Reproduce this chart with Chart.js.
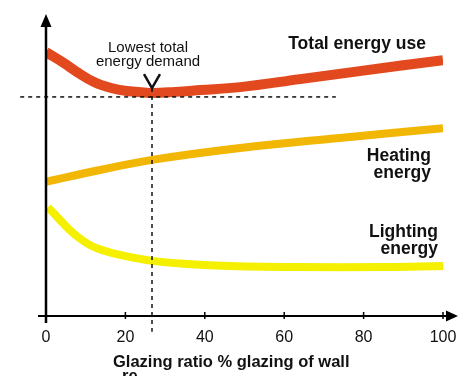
<!DOCTYPE html>
<html>
<head>
<meta charset="utf-8">
<script src="https://cdn.jsdelivr.net/npm/chart.js@4"></script>
<style>
  body { margin: 0; background: #fff; }
  #wrap { width: 458px; height: 376px; }
</style>
</head>
<body>
<div id="wrap"><canvas id="chart" width="458" height="376"></canvas></div>
<script>
// glazing ratio (% of wall) and relative energy (0-100, unitless)
const xTicks = [0, 20, 40, 60, 80, 100];

const totalX = [0, 4.5, 7.8, 12.1, 16.4, 20.4, 24.7, 26.7, 32.5, 38.8, 48.9, 64, 79, 100];
const totalY = [89.2, 85.5, 82.5, 79.1, 77.1, 76.1, 75.6, 75.4, 75.8, 76.4, 77.4, 80.1, 82.8, 86.5];

const heatingX = [0, 13.6, 26.7, 48.9, 74, 100];
const heatingY = [45.5, 49.5, 52.9, 56.9, 60.3, 63.6];

const lightingX = [0.5, 3.5, 6.8, 11.1, 14.9, 18.6, 26.7, 36.3, 46.3, 64, 84, 100];
const lightingY = [37.0, 32.7, 28.3, 24.2, 22.2, 20.9, 18.9, 17.8, 17.2, 16.8, 16.8, 17.2];

// optimum marker
const bestRatio = 26.7;
const bestLevel = 74.1;

const toPoints = (xs, ys) => xs.map((v, i) => ({ x: v, y: ys[i] }));

// ---------------- AXES, GUIDES AND LABELS ----------------
const overlay = {
    id: 'overlay',
    afterDatasetsDraw(chart) {
        const { ctx, scales: { x, y } } = chart;
        const line = (x1, y1, x2, y2) => {
            ctx.beginPath(); ctx.moveTo(x1, y1); ctx.lineTo(x2, y2); ctx.stroke();
        };
        ctx.save();

        // dashed guides through the minimum
        const gx = x.getPixelForValue(bestRatio);
        const gy = y.getPixelForValue(bestLevel);
        ctx.strokeStyle = '#111';
        ctx.lineWidth = 1.5;
        ctx.setLineDash([4, 4]);
        line(x.getPixelForValue(-6.5), gy, x.getPixelForValue(73), gy);
        line(gx, y.getPixelForValue(77.1), gx, y.getPixelForValue(-5));
        ctx.setLineDash([]);

        // chevron pointer
        const vy = y.getPixelForValue(77.1);
        ctx.lineWidth = 2.5;
        ctx.beginPath();
        ctx.moveTo(gx - 8, vy - 14); ctx.lineTo(gx, vy); ctx.lineTo(gx + 8, vy - 14);
        ctx.stroke();

        // axes with arrows
        const x0 = x.getPixelForValue(0);
        const y0 = y.getPixelForValue(0) - 1;
        ctx.fillStyle = '#000';
        ctx.strokeStyle = '#000';
        ctx.lineWidth = 2.5;
        line(x0, y.top + 5, x0, y0 + 7);
        ctx.beginPath();
        ctx.moveTo(x0, y.top - 6); ctx.lineTo(x0 - 5.5, y.top + 7); ctx.lineTo(x0 + 5.5, y.top + 7);
        ctx.closePath(); ctx.fill();

        ctx.lineWidth = 2;
        line(x0 - 8, y0, chart.width - 10, y0);
        ctx.beginPath();
        ctx.moveTo(chart.width, y0); ctx.lineTo(chart.width - 12, y0 - 5.5); ctx.lineTo(chart.width - 12, y0 + 5.5);
        ctx.closePath(); ctx.fill();

        ctx.lineWidth = 1.5;
        xTicks.slice(1).forEach(t => {
            const px = x.getPixelForValue(t);
            line(px, y0 - 4, px, y0 + 3);
        });

        // text
        ctx.fillStyle = '#111';
        ctx.textBaseline = 'alphabetic';
        ctx.font = '15px "Liberation Sans", Arial, sans-serif';
        ctx.textAlign = 'center';
        ctx.fillText('Lowest total', gx - 4, 52);
        ctx.fillText('energy demand', gx - 4, 66);

        ctx.font = 'bold 17.5px "Liberation Sans", Arial, sans-serif';
        ctx.textAlign = 'right';
        ctx.fillText('Total energy use', 426, 49);
        ctx.fillText('Heating', 431, 161);
        ctx.fillText('energy', 431, 178);
        ctx.fillText('Lighting', 438, 237);
        ctx.fillText('energy', 438, 254);

        ctx.font = 'bold 16.5px "Liberation Sans", Arial, sans-serif';
        ctx.textAlign = 'left';
        ctx.fillText('Glazing ratio % glazing of wall', 113, 367);
        ctx.fillText('re', 122, 381);

        ctx.restore();
    }
};

new Chart(document.getElementById('chart'), {
    type: 'line',
    data: {
        datasets: [
            {
                label: 'Total energy use',
                data: toPoints(totalX, totalY),
                borderColor: '#e2491f',
                borderWidth: 10
            },
            {
                label: 'Heating energy',
                data: toPoints(heatingX, heatingY),
                borderColor: '#f2b705',
                borderWidth: 8
            },
            {
                label: 'Lighting energy',
                data: toPoints(lightingX, lightingY),
                borderColor: '#f4f000',
                borderWidth: 8
            }
        ]
    },
    options: {
        responsive: false,
        animation: false,
        layout: { padding: { left: 46, right: 15, top: 20, bottom: 0 } },
        elements: {
            point: { radius: 0 },
            line: { tension: 0.4, fill: false }
        },
        plugins: { legend: { display: false }, tooltip: { enabled: false } },
        scales: {
            x: {
                type: 'linear',
                min: 0,
                max: 100,
                afterFit(scale) {
                    scale.height = 59;
                    scale.paddingLeft = 0;
                    scale.paddingRight = 0;
                },
                grid: { display: false, drawTicks: false },
                border: { display: false },
                ticks: {
                    stepSize: 20,
                    padding: 11,
                    color: '#111',
                    font: { family: '"Liberation Sans", Arial, sans-serif', size: 16 }
                }
            },
            y: {
                display: false,
                min: 0,
                max: 100
            }
        }
    },
    plugins: [overlay]
});
</script>
</body>
</html>
